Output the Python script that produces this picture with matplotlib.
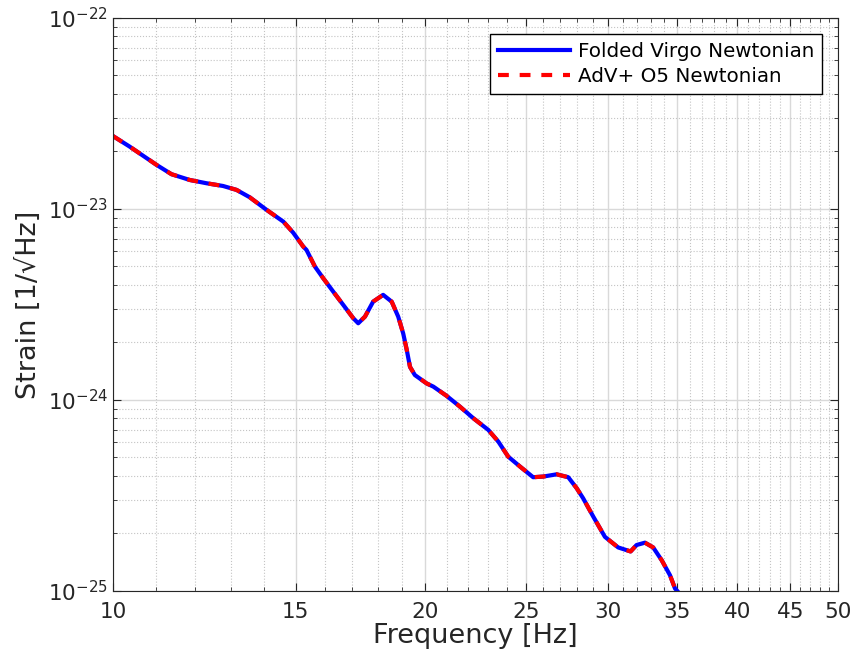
import matplotlib.pyplot as plt
from matplotlib.ticker import FixedLocator, NullFormatter, LogLocator

# Valores (frequência em Hz, strain em 1/sqrt(Hz))
freq = [10.0, 10.38, 10.70, 11.02, 11.39, 11.86, 12.31, 12.77, 13.16, 13.55,
        14.07, 14.60, 14.92, 15.26, 15.37, 15.66, 15.95, 16.31, 16.68, 17.05,
        17.24, 17.50, 17.82, 18.22, 18.57, 18.84, 19.05, 19.20, 19.34, 19.55,
        20.07, 20.37, 20.98, 21.61, 22.26, 23.01, 23.53, 24.05, 24.69, 25.42,
        25.99, 26.78, 27.48, 28.00, 28.40, 29.05, 29.81, 30.70, 31.56, 31.98,
        32.58, 33.18, 33.81, 34.44, 34.83, 35.0]
folded_virgo = [2.41e-23, 2.12e-23, 1.895e-23, 1.70e-23, 1.52e-23, 1.418e-23,
                1.363e-23, 1.319e-23, 1.258e-23, 1.151e-23, 9.88e-24, 8.58e-24,
                7.52e-24, 6.35e-24, 6.10e-24, 4.99e-24, 4.34e-24, 3.69e-24,
                3.14e-24, 2.68e-24, 2.52e-24, 2.73e-24, 3.27e-24, 3.55e-24,
                3.27e-24, 2.73e-24, 2.23e-24, 1.83e-24, 1.49e-24, 1.35e-24,
                1.22e-24, 1.174e-24, 1.05e-24, 9.22e-25, 8.02e-25, 6.97e-25,
                6.05e-25, 5.05e-25, 4.48e-25, 3.94e-25, 3.97e-25, 4.08e-25,
                3.94e-25, 3.45e-25, 3.06e-25, 2.45e-25, 1.92e-25, 1.69e-25,
                1.61e-25, 1.74e-25, 1.79e-25, 1.69e-25, 1.45e-25, 1.21e-25,
                1.03e-25, 1.0e-25]
adv_o5 = list(folded_virgo)

xticks = [10, 15, 20, 25, 30, 35, 40, 45, 50]
xminor = list(range(11, 50))
yticks = [1e-25, 1e-24, 1e-23, 1e-22]

plt.rcParams['font.family'] = 'DejaVu Sans'
plt.rcParams['mathtext.default'] = 'regular'
texto = '#262626'

fig = plt.figure(figsize=(8.55, 6.64), dpi=100)
ax = fig.add_axes([0.132, 0.110, 0.848, 0.863])

ax.plot(freq, folded_virgo, color='#0000ff', lw=3.0, label='Folded Virgo Newtonian')
ax.plot(freq, adv_o5, color='#ff0000', lw=3.0, ls=(0, (2.6, 2.6)), label='AdV+ O5 Newtonian')

ax.set_xscale('log')
ax.set_yscale('log')
ax.set_xlim(10, 50)
ax.set_ylim(1e-25, 1e-22)

ax.xaxis.set_major_locator(FixedLocator(xticks))
ax.xaxis.set_minor_locator(FixedLocator(xminor))
ax.set_xticklabels([str(t) for t in xticks])
ax.xaxis.set_minor_formatter(NullFormatter())
ax.yaxis.set_major_locator(FixedLocator(yticks))
ax.set_yticklabels(['$10^{%d}$' % e for e in (-25, -24, -23, -22)])
ax.yaxis.set_minor_locator(LogLocator(base=10, subs=range(2, 10), numticks=20))
ax.yaxis.set_minor_formatter(NullFormatter())

ax.grid(True, which='major', color='#d9d9d9', lw=1.0, ls='-')
ax.grid(True, which='minor', color='#c4c4c4', lw=0.8, ls=':')
ax.set_axisbelow(True)

ax.tick_params(which='both', direction='in', top=True, right=True, colors=texto,
               labelsize=15.5)
ax.tick_params(which='major', length=6)
ax.tick_params(which='minor', length=3)
ax.tick_params(axis='x', which='major', pad=8)
for s in ax.spines.values():
    s.set_color(texto)

ax.set_xlabel('Frequency [Hz]', fontsize=19.5, color=texto, labelpad=1)
ax.set_ylabel('Strain [1/\u221aHz]', fontsize=19.5, color=texto)

leg = ax.legend(loc='upper right', fontsize=14.3, fancybox=False, framealpha=1,
                edgecolor='black', handlelength=3.6, handletextpad=0.4,
                borderaxespad=0.8, borderpad=0.4, labelspacing=0.3)
leg.get_frame().set_linewidth(1.0)

fig.savefig('out.png', dpi=100)
